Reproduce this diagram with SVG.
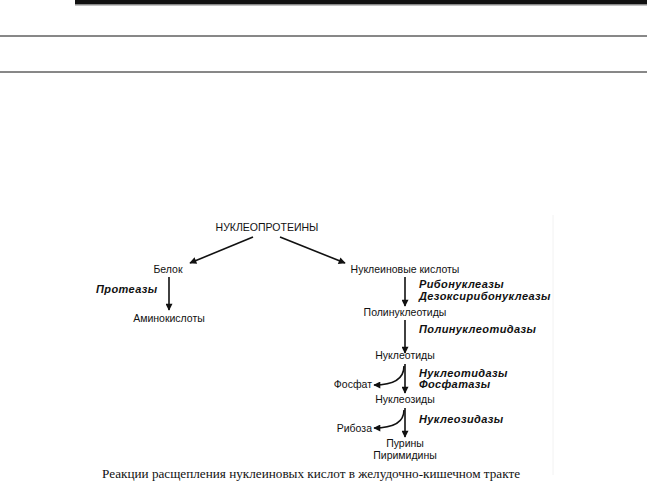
<svg xmlns="http://www.w3.org/2000/svg" width="647" height="497" viewBox="0 0 647 497">
<defs>
<style>
.t{font-family:"Liberation Sans",Arial,sans-serif;font-size:10.5px;fill:#111}
.e{font-family:"Liberation Sans",Arial,sans-serif;font-size:11px;font-weight:bold;font-style:italic;letter-spacing:0.4px;fill:#111}
.c{font-family:"Liberation Serif","Times New Roman",serif;font-size:13.2px;fill:#111}
.l{stroke:#111;stroke-width:1.6;fill:none;marker-end:url(#ah)}
</style>
<marker id="ah" viewBox="0 0 10 10" refX="9" refY="5" markerWidth="8" markerHeight="7" markerUnits="userSpaceOnUse" orient="auto">
<path d="M0,0 L10,5 L0,10 Z" fill="#111"/>
</marker>
</defs>
<rect width="647" height="497" fill="#fff"/>
<g id="rules">
<rect x="75" y="0" width="572" height="4" fill="#111"/>
<rect x="75" y="4" width="572" height="1.5" fill="#888"/>
<line x1="0" y1="36" x2="647" y2="36" stroke="#111" stroke-width="1"/>
<line x1="0" y1="72" x2="647" y2="72" stroke="#111" stroke-width="1"/>
<line x1="553" y1="215" x2="553" y2="475" stroke="#f2f2f2" stroke-width="1"/>
</g>
<g id="connectors">
<path class="l" d="M253,237 L190,263"/>
<path class="l" d="M280,237 L345,263"/>
<path class="l" d="M169,277 L169,310"/>
<path class="l" d="M405,277 L405,306"/>
<path class="l" d="M405,320 L405,353"/>
<path class="l" d="M405,364 L405,393"/>
<path class="l" d="M405,408 L405,437"/>
<path class="l" d="M404,366 C404,379 393,385 374,385"/>
<path class="l" d="M404,410 C404,423 393,428 374,428"/>
</g>
<g id="n-nucleoproteins"><text class="t" x="267" y="231" text-anchor="middle">НУКЛЕОПРОТЕИНЫ</text></g>
<g id="n-protein"><text class="t" x="168" y="273" text-anchor="middle">Белок</text></g>
<g id="n-nucleic"><text class="t" x="405" y="273" text-anchor="middle">Нуклеиновые кислоты</text></g>
<g id="e-protease"><text class="e" x="96" y="293">Протеазы</text></g>
<g id="n-amino"><text class="t" x="169" y="322" text-anchor="middle">Аминокислоты</text></g>
<g id="e-nucleases"><text class="e" x="419" y="288">Рибонуклеазы</text><text class="e" x="419" y="300">Дезоксирибонуклеазы</text></g>
<g id="n-polynuc"><text class="t" x="405" y="316" text-anchor="middle">Полинуклеотиды</text></g>
<g id="e-polynucase"><text class="e" x="419" y="333">Полинуклеотидазы</text></g>
<g id="n-nucleotides"><text class="t" x="405" y="359" text-anchor="middle">Нуклеотиды</text></g>
<g id="e-nucleotidase"><text class="e" x="419" y="377">Нуклеотидазы</text><text class="e" x="419" y="388">Фосфатазы</text></g>
<g id="n-phosphate"><text class="t" x="372" y="388" text-anchor="end">Фосфат</text></g>
<g id="n-nucleosides"><text class="t" x="405" y="403" text-anchor="middle">Нуклеозиды</text></g>
<g id="e-nucleosidase"><text class="e" x="419" y="423">Нуклеозидазы</text></g>
<g id="n-ribose"><text class="t" x="372" y="432" text-anchor="end">Рибоза</text></g>
<g id="n-bases"><text class="t" x="405" y="447" text-anchor="middle">Пурины</text><text class="t" x="405" y="459" text-anchor="middle">Пиримидины</text></g>
<g id="caption"><text class="c" x="102" y="478">Реакции расщепления нуклеиновых кислот в желудочно-кишечном тракте</text></g>
</svg>
